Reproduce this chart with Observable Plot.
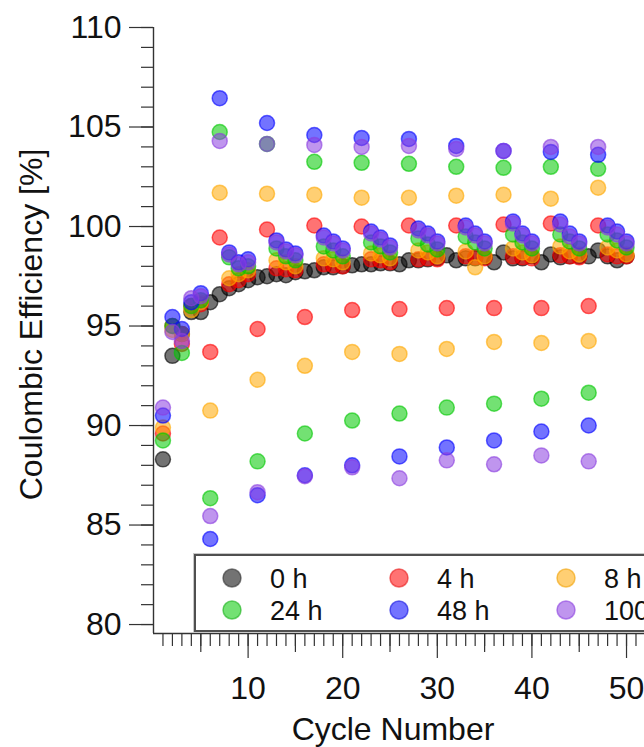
<!DOCTYPE html>
<html>
<head>
<meta charset="utf-8">
<script src="https://cdn.jsdelivr.net/npm/d3@7"></script>
<script src="https://cdn.jsdelivr.net/npm/@observablehq/plot@0.6"></script>
<style>
  html, body { margin: 0; padding: 0; background: #fff; }
  #wrap { position: relative; width: 644px; height: 747px; overflow: hidden; font-family: "Liberation Sans", Arial, sans-serif; }
  #legend { position: absolute; left: 194px; top: 554px; width: 470px; height: 74px; background: #fff;
            border: 2px solid #505050; box-shadow: 0 0 0 1px #c8c8c8; }
</style>
</head>
<body>
<div id="wrap"><div id="legend"></div></div>
<script>
// ---- data ----
const cycles = d3.range(1, 51);
const seriesLabels = ["0 h", "4 h", "8 h", "24 h", "48 h", "100 h"];
const seriesColors = ["#000000", "#ff0000", "#ffa800", "#00c800", "#0000ff", "#8a3ee0"];
const strokeColors = ["#303030", "#e81818", "#f0a000", "#18b018", "#1010e0", "#8a3ee0"];

const ce0h = [88.3, 93.5, 94.6, 95.7, 95.7, 96.2, 96.6, 96.9, 97.1, 97.3,
  97.45, 97.5, 97.6, 97.55, 97.7, 97.75, 97.8, 97.95, 97.95, 98.0,
  98.05, 98.1, 98.1, 98.15, 98.15, 98.1, 98.3, 98.3, 98.35, 98.4,
  98.55, 98.3, 98.4, 98.4, 98.45, 98.2, 98.7, 98.4, 98.4, 98.5,
  98.2, 98.6, 98.45, 98.5, 98.5, 98.5, 98.8, 98.5, 98.3, 98.5];
const ce4h = [89.6, 95.0, 94.1, 96.0, 96.1, 93.7, 99.45, 97.1, 97.3, 97.6,
  94.85, 99.85, 97.9, 97.85, 97.8, 95.45, 100.05, 98.1, 98.05, 98.0,
  95.8, 100.0, 98.35, 98.3, 98.2, 95.85, 100.05, 98.35, 98.4, 98.35,
  95.9, 100.05, 98.5, 98.45, 98.4, 95.9, 100.1, 98.5, 98.45, 98.4,
  95.9, 100.15, 98.55, 98.5, 98.45, 96.0, 100.05, 98.6, 98.5, 98.5];
const ce8h = [89.9, 94.8, 94.6, 95.8, 96.2, 90.75, 101.7, 97.4, 97.6, 97.8,
  92.3, 101.65, 98.3, 98.2, 98.0, 93.0, 101.6, 98.4, 98.35, 98.2,
  93.7, 101.45, 98.65, 98.55, 98.4, 93.6, 101.45, 98.8, 98.7, 98.5,
  93.85, 101.55, 98.75, 97.95, 98.5, 94.2, 101.6, 98.9, 98.7, 98.55,
  94.15, 101.4, 99.0, 98.75, 98.6, 94.25, 101.95, 98.95, 98.8, 98.6];
const ce24h = [89.25, 95.0, 93.65, 96.0, 96.3, 86.35, 104.75, 98.45, 97.9, 98.0,
  88.2, 104.15, 98.9, 98.5, 98.3, 89.6, 103.25, 99.0, 98.8, 98.5,
  90.25, 103.2, 99.2, 99.0, 98.7, 90.6, 103.15, 99.4, 99.1, 98.85,
  90.9, 103.0, 99.5, 99.2, 98.9, 91.1, 102.95, 99.6, 99.2, 98.9,
  91.35, 103.0, 99.6, 99.25, 98.9, 91.65, 102.9, 99.6, 99.3, 98.95];
const ce48h = [90.5, 95.45, 94.85, 96.2, 96.65, 84.3, 106.45, 98.7, 98.2, 98.35,
  86.5, 105.2, 99.3, 98.85, 98.65, 87.5, 104.6, 99.55, 99.25, 98.9,
  88.0, 104.45, 99.75, 99.45, 99.05, 88.45, 104.4, 99.9, 99.65, 99.25,
  88.9, 104.05, 100.05, 99.65, 99.25, 89.25, 103.8, 100.25, 99.65, 99.25,
  89.7, 103.75, 100.25, 99.65, 99.25, 90.0, 103.6, 100.05, 99.75, 99.25];
const ce100h = [90.9, 94.7, 94.25, 96.4, 96.5, 85.45, 104.3, 98.6, 98.1, 98.2,
  86.65, 104.15, 99.2, 98.75, 98.55, 87.45, 104.1, 99.45, 99.15, 98.8,
  87.9, 104.0, 99.65, 99.35, 98.95, 87.35, 104.05, 99.8, 99.55, 99.15,
  88.25, 103.9, 99.95, 99.55, 99.15, 88.05, 103.8, 100.15, 99.55, 99.15,
  88.5, 104.0, 100.1, 99.5, 99.15, 88.2, 104.0, 99.95, 99.6, 99.15];
const seriesValues = [ce0h, ce4h, ce8h, ce24h, ce48h, ce100h];

const yMajorTicks = [80, 85, 90, 95, 100, 105, 110];
const xMajorTicks = [10, 20, 30, 40, 50];
const xMidTicks = [5, 15, 25, 35, 45];

// ---- table ----
const table = seriesLabels.flatMap((s, i) =>
  cycles.map((c, j) => ({cycle: c, ce: seriesValues[i][j], series: s})));

const yMin = 79.55, yMax = 110;
const font = "Liberation Sans, Arial, sans-serif";

const chart = Plot.plot({
  width: 644, height: 747,
  marginLeft: 153, marginRight: 0, marginTop: 27, marginBottom: 114,
  style: {fontFamily: font, color: "#111", background: "transparent", overflow: "visible"},
  x: {domain: [0, 51.9]},
  y: {domain: [yMin, yMax]},
  color: {domain: seriesLabels, range: seriesColors},
  marks: [
    Plot.ruleX([0], {stroke: "#333", strokeWidth: 1.4}),
    Plot.ruleY([yMin], {stroke: "#333", strokeWidth: 1.4}),
    Plot.axisY({ticks: d3.range(80, 111), tickSize: 12, text: null, stroke: "#333", strokeWidth: 1.2, label: null}),
    Plot.axisY({ticks: yMajorTicks, tickSize: 24, tickPadding: 8, fontSize: 32, stroke: "#333", strokeWidth: 1.2, label: null}),
    Plot.axisX({ticks: d3.range(1, 52), tickSize: 13, text: null, stroke: "#333", strokeWidth: 1.2, label: null}),
    Plot.axisX({ticks: xMidTicks, tickSize: 19, text: null, stroke: "#333", strokeWidth: 1.2, label: null}),
    Plot.axisX({ticks: xMajorTicks, tickSize: 25, tickPadding: 18, fontSize: 32, stroke: "#333", strokeWidth: 1.2, label: null}),
    Plot.text(["Cycle Number"], {frameAnchor: "bottom", dx: -6, dy: 96, fontSize: 32, fill: "#111", lineAnchor: "middle", textAnchor: "middle"}),
    Plot.text(["Coulombic Efficiency [%]"], {frameAnchor: "left", dx: -122, dy: -6, rotate: -90, fontSize: 32, fill: "#111", lineAnchor: "middle", textAnchor: "middle"}),
    Plot.dot(table, {x: "cycle", y: "ce", r: 7.5, fill: "series", stroke: "series",
      fillOpacity: 0.55, strokeOpacity: 0.6, strokeWidth: 1.5})
  ]
});
const wrap = document.getElementById("wrap");
wrap.insertBefore(chart, wrap.firstChild);

// ---- legend ----
const lg = d3.select("#legend").append("svg").attr("width", 470).attr("height", 74)
  .style("font-family", font);
seriesLabels.forEach((s, i) => {
  const col = i % 3, row = Math.floor(i / 3);
  const cx = 36 + col * 167, cy = 22 + row * 32;
  lg.append("circle").attr("cx", cx).attr("cy", cy).attr("r", 9)
    .attr("fill", seriesColors[i]).attr("fill-opacity", 0.55)
    .attr("stroke", strokeColors[i]).attr("stroke-opacity", 0.6).attr("stroke-width", 1.5);
  lg.append("text").attr("x", cx + 38).attr("y", cy).attr("dy", "0.36em")
    .attr("font-size", 27).attr("fill", "#111").text(s);
});
</script>
</body>
</html>
